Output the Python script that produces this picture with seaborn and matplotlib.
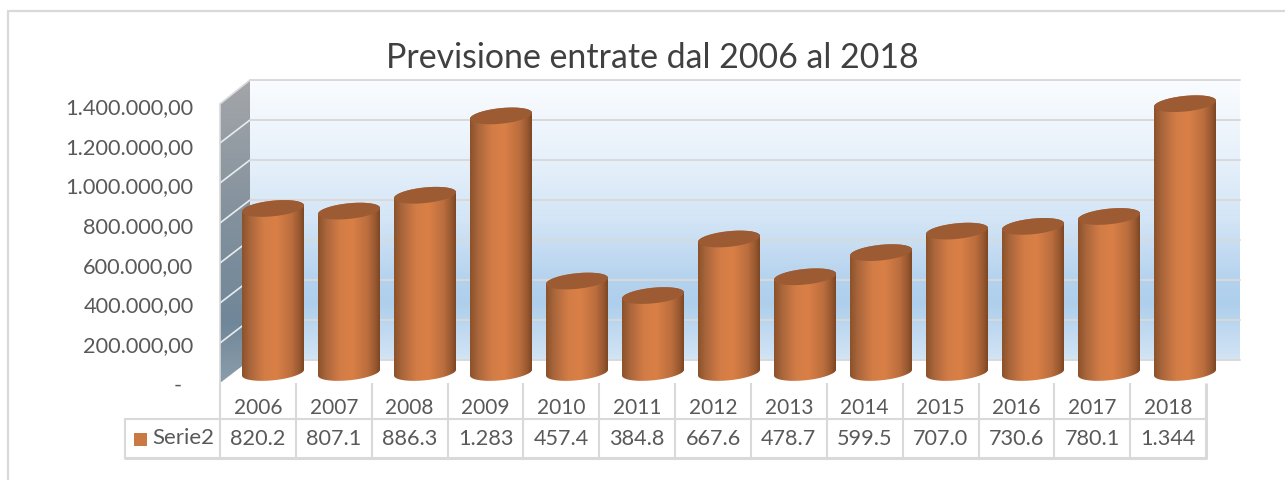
import numpy as np
import pandas as pd
import matplotlib
matplotlib.use("Agg")
import matplotlib.pyplot as plt
import seaborn as sns
from matplotlib.colors import LinearSegmentedColormap
from matplotlib.patches import Polygon, Rectangle
from matplotlib.path import Path
from matplotlib.ticker import FuncFormatter, MultipleLocator

years = ["2006", "2007", "2008", "2009", "2010", "2011", "2012",
         "2013", "2014", "2015", "2016", "2017", "2018"]
values = [820200, 807100, 886300, 1283000, 457400, 384800, 667600,
          478700, 599500, 707000, 730600, 780100, 1344000]
table_labels = ["820.2", "807.1", "886.3", "1.283", "457.4", "384.8", "667.6",
                "478.7", "599.5", "707.0", "730.6", "780.1", "1.344"]
series_name = "Serie2"
title = "Previsione entrate dal 2006 al 2018"

W, H = 1285, 481
TEXT = "#595959"
GRID = "#d9d9d9"
FONT = ["Lato", "DejaVu Sans"]

sns.set_theme(style="white")
plt.rcParams["font.family"] = FONT
fig = plt.figure(figsize=(W / 100, H / 100), dpi=100, facecolor="white")


def axes_px(x0, x1, ytop, ybot, **kw):
    return fig.add_axes([x0 / W, 1 - ybot / H, (x1 - x0) / W, (ybot - ytop) / H], **kw)


def fig_line(xs, ys, color=GRID, lw=1.1, z=1):
    fig.add_artist(plt.Line2D([x / W for x in xs], [1 - y / H for y in ys],
                              color=color, lw=lw, zorder=z))


# chart frame
fig_line([8, 8], [12, 481], lw=1.6)
fig_line([8, 1285], [12, 12], lw=1.6)

# back wall
YMAX = 1400000
ax_back = axes_px(250, 1240, 81, 361)
ax_back.set_xlim(0, 1)
ax_back.set_ylim(0, YMAX)
wall_cm = LinearSegmentedColormap.from_list("wall", [
    (0.0, "#fafcff"), (0.25, "#e9f2fb"), (0.5, "#d3e5f6"),
    (0.72, "#b4d2ee"), (0.8, "#aecfec"), (1.0, "#d3e4f5")])
ax_back.imshow(np.linspace(0, 1, 256).reshape(-1, 1), cmap=wall_cm, aspect="auto",
               extent=(0, 1, 0, YMAX), origin="upper", zorder=0)
ax_back.yaxis.set_major_locator(MultipleLocator(200000))
ax_back.tick_params(left=False, bottom=False, labelleft=False, labelbottom=False)
ax_back.grid(True, axis="y", color=GRID, lw=1.4)
ax_back.set_axisbelow(False)
for line in ax_back.get_ygridlines():
    line.set_clip_on(False)
sns.despine(ax=ax_back, left=True, bottom=True, top=True, right=True)

# side wall, sheared towards the front
ax_side = axes_px(220, 250, 81, 384)
ax_side.set_xlim(220, 250)
ax_side.set_ylim(384, 81)
ax_side.axis("off")
side = Polygon([(220, 105), (250, 81), (250, 361), (220, 384)], closed=True,
               facecolor="none", edgecolor="none")
ax_side.add_patch(side)
side_cm = LinearSegmentedColormap.from_list("side", [
    (0.0, "#a3a6a9"), (0.45, "#83919d"), (0.8, "#708799"), (1.0, "#8b9dab")])
im = ax_side.imshow(np.linspace(0, 1, 256).reshape(-1, 1), cmap=side_cm, aspect="auto",
                    extent=(220, 250, 384, 81), origin="upper")
im.set_clip_path(side)
ax_side.set_xlim(220, 250)
ax_side.set_ylim(384, 81)
for v in range(200000, 1400000, 200000):
    d = v / 5000
    ax_side.plot([220, 250], [384 - d, 361 - d], color="#e8ecef", lw=1.2)
fig_line([219.5, 219.5], [105, 384], lw=1.2, z=2)
fig_line([220, 250], [105, 81], lw=1.2, z=2)

# value axis
ax_val = axes_px(220, 221, 106, 384)
ax_val.patch.set_alpha(0)
ax_val.set_ylim(0, YMAX)
ax_val.set_xticks([])
ax_val.yaxis.set_major_locator(MultipleLocator(200000))
ax_val.yaxis.set_major_formatter(FuncFormatter(
    lambda v, _: "-  " if v == 0 else f"{v:,.2f}".replace(",", "X").replace(".", ",").replace("X", ".")))
ax_val.tick_params(axis="y", length=0, pad=19, labelsize=15.7, labelcolor=TEXT)
sns.despine(ax=ax_val, left=True, bottom=True)

# bars
PX_PER_CAT = 76
BAR_W = 62
A, SLANT, B = BAR_W / 2, 3.0, 7.8
Y_ZERO = 373.5
BELOW = 12.0
ax_bar = axes_px(273 - 38, 273 + 12.5 * 76, 0, Y_ZERO + BELOW)
ax_bar.patch.set_alpha(0)
df = pd.DataFrame({"anno": years, "valore": values})
sns.barplot(data=df, x="anno", y="valore", ax=ax_bar, color="#d27a44",
            width=BAR_W / PX_PER_CAT, saturation=1, zorder=3)
ax_bar.set_xlim(-0.5, 12.5)
ax_bar.set_ylim(-BELOW * 5000, Y_ZERO * 5000)
ax_bar.axis("off")

body_cm = LinearSegmentedColormap.from_list("body", [
    (0.0, "#8c5229"), (0.12, "#a8653b"), (0.35, "#d27c46"), (0.55, "#da8047"),
    (0.8, "#bc6e3e"), (0.93, "#985830"), (1.0, "#7d4725")])


def ring(cx, cy, t):
    return np.column_stack([cx + (A * np.cos(t)) / PX_PER_CAT,
                            cy + (SLANT * np.cos(t) + B * np.sin(t)) * 5000])


for i, (bar, val) in enumerate(zip(ax_bar.patches, values)):
    low = ring(i, 0, np.linspace(np.pi, 2 * np.pi, 60))
    high = ring(i, val, np.linspace(0, np.pi, 60))
    outline = np.vstack([low, high, low[:1]])
    clip = Path(outline, closed=True)
    bar.set_clip_path(clip, transform=ax_bar.transData)
    grad = ax_bar.imshow(np.linspace(0, 1, 128).reshape(1, -1), cmap=body_cm, aspect="auto",
                         extent=(i - A / PX_PER_CAT, i + A / PX_PER_CAT, -60000, val + 60000),
                         zorder=4, interpolation="bilinear")
    grad.set_clip_path(clip, transform=ax_bar.transData)
    ax_bar.add_patch(Polygon(ring(i, val, np.linspace(0, 2 * np.pi, 120)), closed=True,
                             facecolor="#9c5b32", edgecolor="none", zorder=5))
ax_bar.set_xlim(-0.5, 12.5)
ax_bar.set_ylim(-BELOW * 5000, Y_ZERO * 5000)

# data table
ax_tab = axes_px(125, 1208, 384, 460)
ax_tab.set_xlim(125, 1208)
ax_tab.set_ylim(460, 384)
ax_tab.axis("off")
edges = [220 + 75.85 * k for k in range(14)]
for k, x in enumerate(edges):
    ax_tab.plot([x, x], [384, 459], color=GRID, lw=1.5 if k < 13 else 2.2,
                clip_on=False, solid_capstyle="butt")
ax_tab.plot([125, edges[-1]], [420, 420], color=GRID, lw=1.5, clip_on=False, solid_capstyle="butt")
ax_tab.plot([125, edges[-1]], [459, 459], color=GRID, lw=2.2, clip_on=False)
ax_tab.plot([125, 125], [420, 459], color=GRID, lw=1.5, clip_on=False)
for k in range(13):
    xc = (edges[k] + edges[k + 1]) / 2
    ax_tab.text(xc, 408, years[k], ha="center", va="center", fontsize=15, color=TEXT)
    ax_tab.text(xc, 439, table_labels[k], ha="center", va="center", fontsize=15.6, color=TEXT)
ax_tab.add_patch(Rectangle((134, 433.5), 13, 13, facecolor="#c97a44", edgecolor="none"))
ax_tab.text(152, 438.5, series_name, ha="left", va="center", fontsize=16, color=TEXT)

fig.text(652 / W, 1 - 58 / H, title, ha="center", va="center", fontsize=24.4, color="#404040")

fig.savefig("out.png", dpi=100, facecolor="white")
